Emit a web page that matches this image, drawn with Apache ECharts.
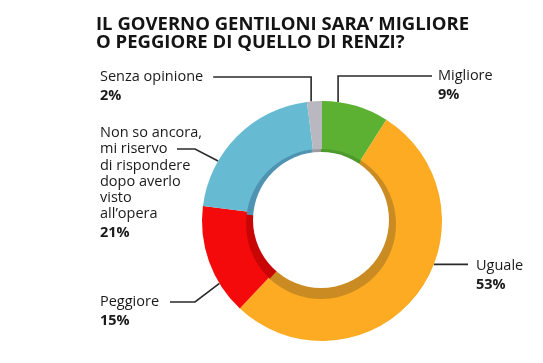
<!DOCTYPE html>
<html>
<head>
<meta charset="utf-8">
<script src="https://cdn.jsdelivr.net/npm/echarts@6/dist/echarts.min.js"></script>
<style>html,body{margin:0;padding:0;background:#fff}#c{width:543px;height:363px}</style>
</head>
<body>
<div id="c"></div>
<script>
// ---- data ----
const categories = ["Migliore", "Uguale", "Peggiore", "Non so ancora,\nmi riservo\ndi rispondere\ndopo averlo\nvisto\nall\u2019opera", "Senza opinione"];
const values = [9, 53, 15, 21, 2];
const valueLabels = ["9%", "53%", "15%", "21%", "2%"];
const titleText = "IL GOVERNO GENTILONI SARA\u2019 MIGLIORE\nO PEGGIORE DI QUELLO DI RENZI?";

// ---- styling ----
const colors = ["#5cb032", "#fcab22", "#f40a0a", "#66bbd3", "#b9b7bf"];
const bandColors = ["#4d9a2a", "#c98b22", "#c80606", "#4f93b3", "#9d9aa3"];
const CX = 322, CY = 221, R = 120;
const FONT = "Open Sans";

// label layout (top-left of label block) and leader shapes
const layoutCfg = [
  { x: 438, y: 68, delta: -8.5, line: (a) => [a, [a[0], 76], [432, 76]] },
  { x: 476, y: 258, delta: -16.6, line: (a) => [a, [(a[0] + 468) / 2, a[1]], [468, a[1]]] },
  { x: 100, y: 294, delta: -11.5, line: (a) => [a, [195, 302], [170, 302]] },
  { x: 100, y: 125, delta: -15, line: (a) => [a, [195, 149], [177, 149]] },
  { x: 100, y: 69, delta: -1.6, line: (a, lx, ly, w) => [a, [a[0], 77], [lx + w + 10, 77]] }
];

function anchor(p0, deltaDeg) {
  const ang = Math.atan2(p0[1] - CY, p0[0] - CX) + deltaDeg * Math.PI / 180;
  return [CX + R * Math.cos(ang), CY + R * Math.sin(ang)];
}

const chart = echarts.init(document.getElementById('c'), null, { renderer: 'canvas' });

const mainData = categories.map((n, i) => ({ name: n, value: values[i], itemStyle: { color: colors[i] } }));
const bandData = categories.map((n, i) => ({ name: n, value: values[i], itemStyle: { color: bandColors[i] } }));
const total = values.reduce((s, v) => s + v, 0);

chart.setOption({
  animation: false,
  backgroundColor: '#ffffff',
  title: {
    text: titleText,
    left: 91,
    top: 10,
    textStyle: { fontFamily: FONT, fontWeight: 'bold', fontSize: 18.5, lineHeight: 18.5, color: '#141414' }
  },
  series: [
    {
      type: 'pie',
      silent: true,
      center: [CX, CY],
      radius: [0, R],
      startAngle: 90,
      avoidLabelOverlap: false,
      data: mainData,
      z: 1,
      label: {
        show: true,
        position: 'outside',
        formatter: (p) => '{n|' + p.name + '}\n{v|' + valueLabels[p.dataIndex] + '}',
        rich: {
          n: { fontFamily: FONT, fontSize: 14.5, lineHeight: 16.2, color: '#1a1a1a' },
          v: { fontFamily: FONT, fontSize: 14.5, fontWeight: 'bold', lineHeight: 22, color: '#1a1a1a' }
        }
      },
      labelLine: { show: true, length: 10, length2: 10, lineStyle: { color: '#2a2a2a', width: 1.6 } },
      labelLayout: function (params) {
        const cfg = layoutCfg[params.dataIndex];
        const p0 = params.labelLinePoints ? params.labelLinePoints[0] : [CX, CY - R];
        const a = anchor(p0, cfg.delta);
        return {
          x: cfg.x,
          y: cfg.y,
          align: 'left',
          verticalAlign: 'top',
          labelLinePoints: cfg.line(a, cfg.x, cfg.y, params.labelRect.width)
        };
      }
    },
    {
      type: 'pie',
      silent: true,
      center: [CX - 1, CY + 3],
      radius: [0, 75],
      startAngle: 90,
      data: bandData,
      label: { show: false },
      labelLine: { show: false },
      z: 2
    },
    {
      type: 'pie',
      silent: true,
      center: [CX - 1, CY - 1],
      radius: [0, 68],
      startAngle: 90,
      data: [{ name: 'hole', value: total, itemStyle: { color: '#ffffff' } }],
      label: { show: false },
      labelLine: { show: false },
      z: 3
    }
  ]
});
</script>
</body>
</html>
